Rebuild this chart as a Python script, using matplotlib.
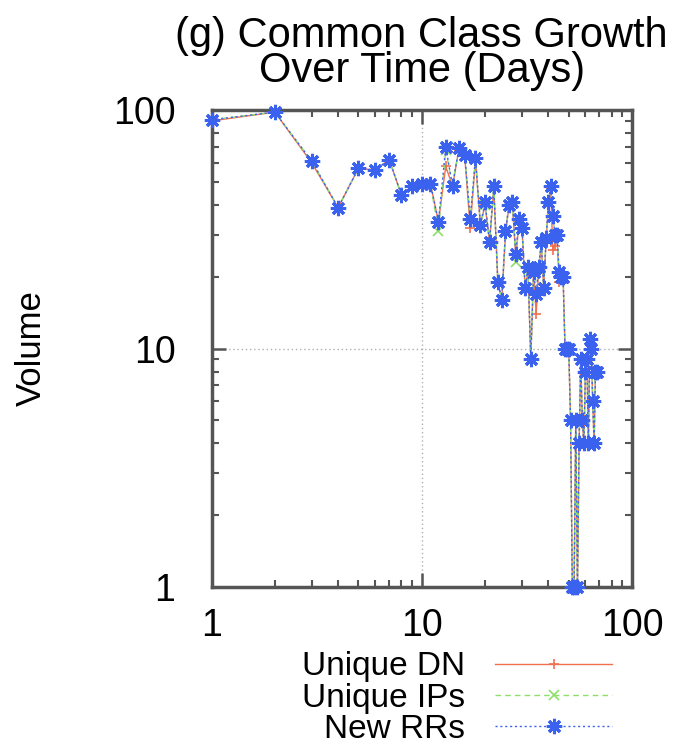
import matplotlib
matplotlib.use('Agg')
import matplotlib.pyplot as plt

plt.rcParams['font.family'] = ['Liberation Sans', 'DejaVu Sans']

# ---- data ----
days = list(range(1, 69))
new_rrs = [91, 98, 61, 39, 57, 56, 62, 44, 48, 49, 49,
           34, 70, 48, 69, 65, 35, 63, 33, 41, 28, 48,
           19, 16, 31, 40, 41, 25, 35, 32, 18, 22, 9,
           21, 17, 22, 28, 18, 29, 41, 48, 36, 30, 30, 21, 20,
           20, 10, 10, 10, 5, 1, 1, 5, 1, 4, 9, 5, 4, 8, 9, 4, 11, 10, 6, 4, 8, 8]
unique_dn = [90, 98, 60, 39, 57, 56, 62, 44, 48, 49, 49,
             34, 58, 48, 68, 64, 32, 62, 33, 40, 28, 47,
             19, 16, 30, 40, 40, 24, 34, 31, 18, 21, 9,
             21, 14, 22, 27, 18, 28, 40, 47, 26, 27, 29, 19, 20,
             20, 10, 10, 10, 5, 1, 1, 5, 1, 4, 9, 5, 4, 8, 9, 4, 11, 10, 6, 4, 8, 8]
unique_ips = [91, 98, 61, 39, 57, 56, 62, 44, 48, 49, 49,
              31, 68, 48, 69, 65, 35, 63, 33, 40, 28, 48,
              19, 16, 31, 40, 41, 23, 35, 32, 18, 22, 9,
              21, 17, 22, 28, 18, 29, 41, 48, 36, 30, 30, 21, 20,
              20, 10, 10, 10, 5, 1, 1, 5, 1, 4, 9, 5, 4, 8, 9, 4, 11, 10, 6, 4, 8, 8]
series_labels = ['Unique DN', 'Unique IPs', 'New RRs']
x_ticks = [1, 10, 100]
x_tick_labels = ['1', '10', '100']
y_ticks = [1, 10, 100]
y_tick_labels = ['1', '10', '100']
title = '(g) Common Class Growth\nOver Time (Days)'
y_label = 'Volume'

# ---- figure ----
fig = plt.figure(figsize=(6.83, 7.48), dpi=100)
ax = fig.add_axes([0.3097, 0.2152, 0.6157, 0.6377])
ax.set_xscale('log')
ax.set_yscale('log')

ax.grid(True, which='major', linestyle=(0, (1, 2)), color='#b0b0b0', linewidth=1)

ax.plot(days, unique_dn, color='#f07050', lw=1.0, ls='-', marker='+', ms=7, mew=1.2,
        label=series_labels[0], clip_on=False, zorder=3)
ax.plot(days, unique_ips, color='#8ede6a', lw=1.0, ls=(0, (4, 3)), marker='x', ms=7, mew=1.2,
        label=series_labels[1], clip_on=False, zorder=4)
ax.plot(days, new_rrs, color='#3a62ee', lw=1.0, ls=(0, (1.5, 2)), marker=(8, 2, 0), ms=11, mew=2.2,
        label=series_labels[2], clip_on=False, zorder=5)

ax.set_xlim(1, 100)
ax.set_ylim(1, 100)
ax.set_xticks(x_ticks, labels=x_tick_labels)
ax.set_yticks(y_ticks, labels=y_tick_labels)
ax.tick_params(which='both', direction='in', top=True, right=True, color='#555555')
ax.tick_params(which='major', length=10, width=1.8, labelsize=27)
ax.tick_params(which='minor', length=5, width=1.5)
ax.tick_params(axis='x', which='major', pad=15)
ax.tick_params(axis='y', which='major', pad=26)
for s in ax.spines.values():
    s.set_color('#555555')
    s.set_linewidth(2.5)

ax.set_title(title, fontsize=30, pad=20, linespacing=0.85)
ax.set_ylabel(y_label, fontsize=25)
ax.yaxis.set_label_coords(-0.39, 0.5)

leg = ax.legend(loc='center right', bbox_to_anchor=(612 / 683, 1 - 698 / 748),
                bbox_transform=fig.transFigure, frameon=False, markerfirst=False,
                fontsize=24, handlelength=3.5, handletextpad=0.9, labelspacing=0.0,
                borderpad=0, borderaxespad=0, numpoints=1)

fig.savefig('out.png', dpi=100)
